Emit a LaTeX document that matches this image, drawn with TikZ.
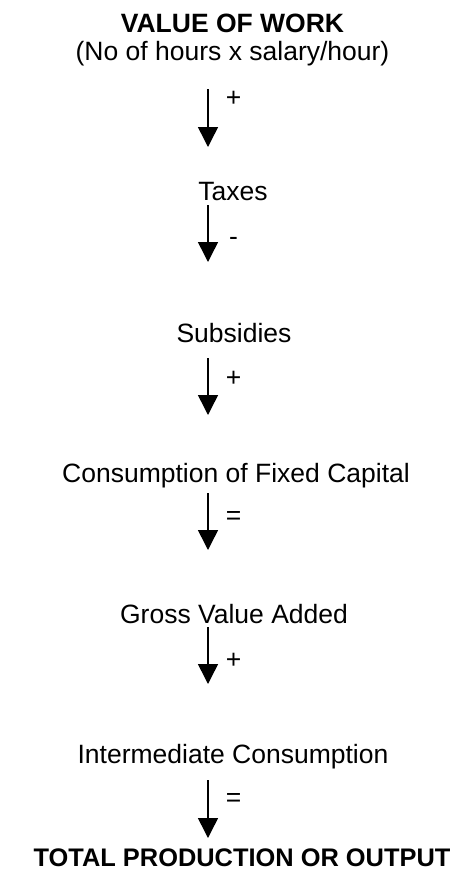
\documentclass[tikz,border=0pt]{standalone}
\usepackage{fontspec}
\setmainfont{Liberation Sans}
\usetikzlibrary{arrows.meta}
\begin{document}
\begin{tikzpicture}[x=1pt,y=-1pt,
  txt/.style={inner sep=0pt,anchor=base,font=\fontsize{26.5}{32}\selectfont},
  btxt/.style={txt,font=\fontsize{26.5}{32}\selectfont\bfseries},
  sign/.style={inner sep=0pt,anchor=center,font=\fontsize{26.5}{32}\selectfont},
  flow/.style={line width=1.5pt,-{Triangle[width=20pt,length=20pt]}}]
\useasboundingbox (0,0) rectangle (456,871);
% texts
\node[btxt] (title) at (232.5,32) {VALUE OF WORK};
\node[txt] (sub) at (232.5,60) {(No of hours x salary/hour)};
\node[txt] (taxes) at (233,200) {Taxes};
\node[txt] (subs) at (234,342) {Subsidies};
\node[txt] (cfc) at (236,482) {Consumption of Fixed Capital};
\node[txt] (gva) at (234,623) {Gross Value Added};
\node[txt] (ic) at (233,763) {Intermediate Consumption};
\node[txt,font=\fontsize{25.4}{30}\selectfont\bfseries] (total) at (242,866) {TOTAL PRODUCTION OR OUTPUT};
% arrow end points
\coordinate (s1) at (208,89);  \coordinate (e1) at (208,147);
\coordinate (s2) at (208,205); \coordinate (e2) at (208,262);
\coordinate (s3) at (208,358); \coordinate (e3) at (208,415);
\coordinate (s4) at (208,493); \coordinate (e4) at (208,550);
\coordinate (s5) at (208,627); \coordinate (e5) at (208,684);
\coordinate (s6) at (208,780); \coordinate (e6) at (208,838);
\draw[flow] (s1) -- (e1);
\draw[flow] (s2) -- (e2);
\draw[flow] (s3) -- (e3);
\draw[flow] (s4) -- (e4);
\draw[flow] (s5) -- (e5);
\draw[flow] (s6) -- (e6);
% signs
\node[sign] (p1) at (233.5,99.3) {+};
\node[sign] (m2) at (233.5,241.7) {-};
\node[sign] (p3) at (233.5,379) {+};
\node[sign] (q4) at (233.5,518) {=};
\node[sign] (p5) at (233.5,660.5) {+};
\node[sign] (q6) at (233.5,799.5) {=};
\end{tikzpicture}
\end{document}
